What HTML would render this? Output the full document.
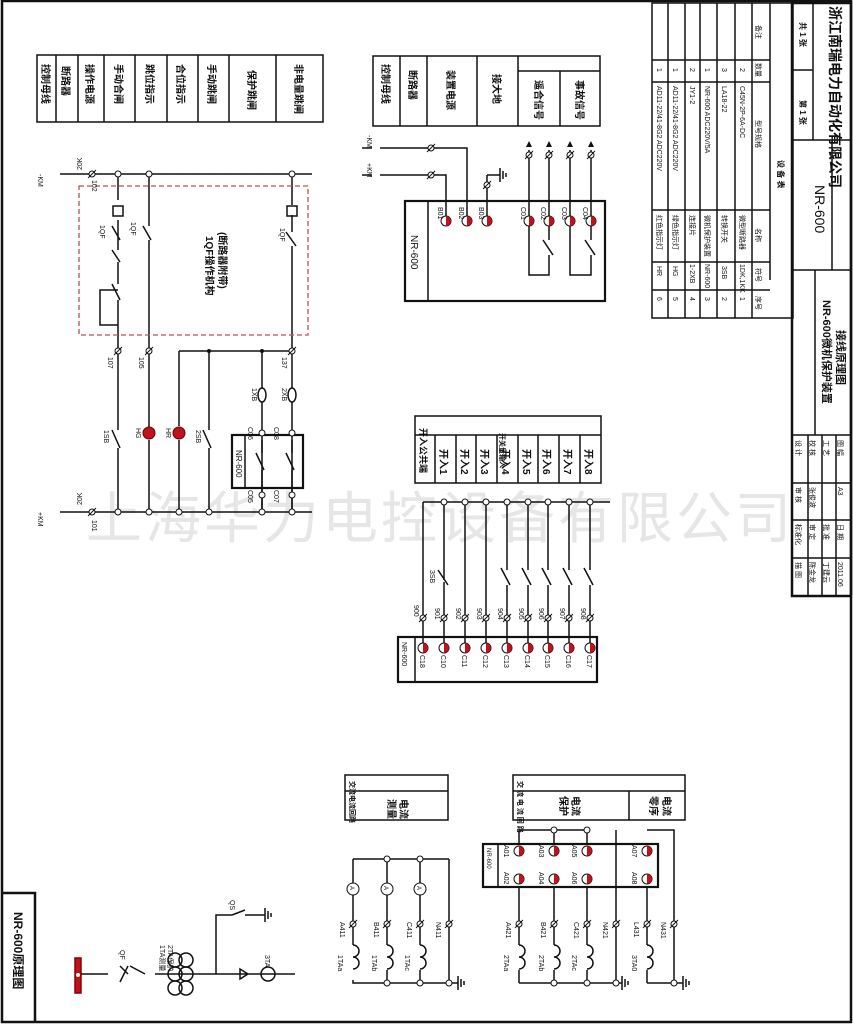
<!DOCTYPE html>
<html><head><meta charset="utf-8"><style>
html,body{margin:0;padding:0;background:#fff;}
svg{display:block;}
text{font-family:"Liberation Sans","Noto Sans CJK SC",sans-serif;fill:#111;}
</style></head><body>
<svg width="853" height="1024" viewBox="0 0 853 1024" xmlns="http://www.w3.org/2000/svg">
<defs>
<g id="rc"><circle r="5" fill="#fff" stroke="#111" stroke-width="1"/><path d="M0,-5 A5,5 0 0 1 0,5 Z" fill="#c0121c"/></g>
<g id="tm"><circle r="3" fill="#fff" stroke="#111" stroke-width="1"/><line x1="-4" y1="4" x2="4" y2="-4" stroke="#111"/></g>
<g id="oc"><circle r="3" fill="#fff" stroke="#111" stroke-width="1"/></g>
</defs>
<text x="86" y="538" font-size="56" style="fill:#e6e6e6" letter-spacing="3">上海华力电控设备有限公司</text>

<g stroke="#111" fill="none" stroke-width="1.5">
<rect x="2" y="1" width="849" height="1021" stroke-width="2.5"/>
<rect x="37" y="55" width="286" height="67"/>
<path d="M56 55V122M78 55V122M104 55V122M135 55V122M167 55V122M198 55V122M229 55V122M276 55V122"/>
<rect x="373" y="56" width="227" height="70"/>
<path d="M400 56V126M427 56V126M477 56V126M518 56V126M560 71V126M518 71H600"/>
<rect x="415" y="416" width="186" height="67"/>
<path d="M415 435H601M435 435V483M456 435V483M476 435V483M497 435V483M518 435V483M538 435V483M559 435V483M580 435V483"/>
<rect x="345" y="775" width="103" height="45"/><path d="M345 791H448"/>
<rect x="513" y="775" width="172" height="45"/><path d="M513 791H685M629 791V820"/>
<path d="M3 893H35V1022" stroke-width="2.5"/>
<rect x="652" y="3" width="141" height="315"/>
<path d="M668 3V318M685 3V318M700 3V318M717 3V318M735 3V318M752 3V318M770 3V280"/>
<path d="M652 60H770M652 82H770M652 210H770M652 262H770M652 290H770"/>
<rect x="792" y="3" width="59" height="593" stroke-width="2.5"/>
<path d="M813 3V140M792 70H813M792 140H851M792 270H851M832 140V270M815 270V435M792 435H851M808 435V596M822 435V596M836 435V596M792 483H851M792 520H851M792 558H851"/>

<path d="M72 174H312M72 512H312"/>
<path d="M118 174V200M118 220V250M118 262V284M118 300V335M118 335V430M118 448V512"/>
<path d="M149 174V226M149 240V430M149 440V512"/>
<path d="M179 351V426M179 440V512M209 351V430M209 448V512"/>
<path d="M262 351V388M262 402V512M292 174V205M292 215V232M292 246V388M292 402V512"/>
<path d="M179 351H292"/>
<path d="M112 226L120 240M143 226L151 240M286 232L296 246M112 250L120 262M112 284L120 300M112 430L120 448M203 430L211 448"/>
<path d="M118 290H100V325H118"/>
<rect x="113" y="206" width="10" height="10"/><rect x="287" y="206" width="10" height="10"/>
<ellipse cx="262" cy="395" rx="4" ry="7"/><ellipse cx="292" cy="395" rx="4" ry="7"/>
<rect x="232" y="435" width="71" height="53" stroke-width="2.2"/><path d="M245 435V488"/>
<path d="M262 440V453M262 470V488M256 453L264 470M292 440V453M292 470V488M286 453L294 470"/>
<path d="M262 488V512M292 488V512"/>
<path d="M60 174H72M60 512H72"/>
</g>
<rect x="79" y="186" width="229" height="149" fill="none" stroke="#c0504d" stroke-width="1.3" stroke-dasharray="5,3"/>
<g>
<use href="#oc" x="118" y="174"/><use href="#oc" x="149" y="174"/><use href="#oc" x="292" y="174"/>
<use href="#oc" x="118" y="512"/><use href="#oc" x="149" y="512"/><use href="#oc" x="179" y="512"/><use href="#oc" x="209" y="512"/><use href="#oc" x="262" y="512"/><use href="#oc" x="292" y="512"/>
<use href="#tm" x="92" y="174"/><use href="#tm" x="92" y="512"/>
<use href="#tm" x="118" y="351"/><use href="#tm" x="149" y="351"/><use href="#tm" x="292" y="351"/>
<circle cx="209" cy="351" r="2" fill="#111"/><circle cx="262" cy="351" r="2" fill="#111"/>
<circle cx="149" cy="433" r="6" fill="#c0121c" stroke="#600"/><circle cx="179" cy="433" r="6" fill="#c0121c" stroke="#600"/>
<use href="#oc" x="262" y="433"/><use href="#oc" x="292" y="433"/><use href="#oc" x="262" y="495"/><use href="#oc" x="292" y="495"/>
</g>

<g stroke="#111" fill="none" stroke-width="1.5">
<rect x="405" y="201" width="200" height="100" stroke-width="2.2"/><path d="M428 201V301"/>
<path d="M380 148H467V216M380 175H446V216M487 175V216M487 175H500M500 168V182M503 171V179M506 173V177"/>
<path d="M529 150V275H549V255M549 240V150M570 150V275H591V255M591 240V150M543 240L553 255M585 240L595 255"/>
<path d="M362 148H372M362 175H372"/>
</g>
<g>
<use href="#tm" x="431" y="148"/><use href="#tm" x="431" y="175"/>
<use href="#tm" x="529" y="155"/><use href="#tm" x="549" y="155"/><use href="#tm" x="570" y="155"/><use href="#tm" x="591" y="155"/><use href="#tm" x="487" y="185"/>
<use href="#rc" x="446" y="221"/><use href="#rc" x="467" y="221"/><use href="#rc" x="487" y="221"/>
<use href="#rc" x="529" y="221"/><use href="#rc" x="549" y="221"/><use href="#rc" x="570" y="221"/><use href="#rc" x="591" y="221"/>
</g>
<path d="M529 141l-3 6h6z M549 141l-3 6h6z M570 141l-3 6h6z M591 141l-3 6h6z" fill="#111"/>

<g stroke="#111" fill="none" stroke-width="1.5">
<path d="M423 502H610"/>
<path d="M423 502V643M444 502V580M444 582V643M465 502V643M486 502V643M507 502V570M507 585V643M528 502V570M528 585V643M548 502V570M548 585V643M569 502V570M569 585V643M590 502V570M590 585V643"/>
<path d="M501 568L510 585M522 568L531 585M542 568L551 585M563 568L572 585M584 568L593 585M438 570L448 585"/>
<rect x="398" y="637" width="199" height="45" stroke-width="2.2"/><path d="M415 637V682"/>
</g>
<g>
<use href="#oc" x="444" y="502"/><use href="#oc" x="486" y="502"/><use href="#oc" x="507" y="502"/><use href="#oc" x="528" y="502"/><use href="#oc" x="548" y="502"/><use href="#oc" x="569" y="502"/><use href="#oc" x="590" y="502"/><use href="#oc" x="465" y="502"/>
<use href="#tm" x="423" y="618"/><use href="#tm" x="444" y="618"/><use href="#tm" x="465" y="618"/><use href="#tm" x="486" y="618"/><use href="#tm" x="507" y="618"/><use href="#tm" x="528" y="618"/><use href="#tm" x="548" y="618"/><use href="#tm" x="569" y="618"/><use href="#tm" x="590" y="618"/>
<use href="#rc" x="423" y="648"/><use href="#rc" x="444" y="648"/><use href="#rc" x="465" y="648"/><use href="#rc" x="486" y="648"/><use href="#rc" x="507" y="648"/><use href="#rc" x="528" y="648"/><use href="#rc" x="548" y="648"/><use href="#rc" x="569" y="648"/><use href="#rc" x="590" y="648"/>
</g>

<g stroke="#111" fill="none" stroke-width="1.5">
<rect x="75" y="958" width="6" height="35" fill="#c0121c" stroke="#800"/>
<path d="M81 974H108M120 966L128 974M120 982L128 966M130 966L145 974M155 974H295M248 974l-8-5v10z"/>
<circle cx="175" cy="960" r="7"/><circle cx="175" cy="974" r="7"/><circle cx="175" cy="988" r="7"/>
<circle cx="186" cy="960" r="7"/><circle cx="186" cy="974" r="7"/><circle cx="186" cy="988" r="7"/>
<circle cx="268" cy="974" r="7"/>
<path d="M216 974V915H232M232 915L245 910M245 915H265M265 908V922M268 911V919M271 913V917"/>
<path d="M353 859H449M353 859V945M387 859V945M420 859V945M449 859V983M353 980V983H458"/>
<path d="M387 970V983M420 970V983M353 945a6 6 0 0 1 0 12a6 6 0 0 1 0 12M387 945a6 6 0 0 1 0 12a6 6 0 0 1 0 12M420 945a6 6 0 0 1 0 12a6 6 0 0 1 0 12"/>
<path d="M458 976V990M461 979V987M464 981V985"/>
<rect x="483" y="844" width="175" height="43" stroke-width="2.2"/><path d="M498 844V887"/>
<path d="M519 830H587M519 830V844M554 830V844M587 830V844M616 830V983M519 887V945M554 887V945M587 887V945M647 887V945M647 830H674V983"/>
<path d="M519 970V983M554 970V983M587 970V983M647 970V983M519 983H622M647 983H683"/>
<path d="M519 945a6 6 0 0 1 0 12a6 6 0 0 1 0 12M554 945a6 6 0 0 1 0 12a6 6 0 0 1 0 12M587 945a6 6 0 0 1 0 12a6 6 0 0 1 0 12M647 945a6 6 0 0 1 0 12a6 6 0 0 1 0 12"/>
<path d="M622 976V990M625 979V987M628 981V985M683 976V990M686 979V987M689 981V985"/>
</g>
<g>
<circle cx="78" cy="975" r="2" fill="#fff"/>
<use href="#oc" x="387" y="859"/><use href="#oc" x="420" y="859"/>
<use href="#oc" x="387" y="983"/><use href="#oc" x="420" y="983"/><use href="#oc" x="449" y="983"/>
<use href="#oc" x="554" y="830"/><use href="#oc" x="587" y="830"/>
<use href="#oc" x="554" y="983"/><use href="#oc" x="587" y="983"/><use href="#oc" x="616" y="983"/><use href="#oc" x="674" y="983"/>
<use href="#tm" x="353" y="924"/><use href="#tm" x="387" y="924"/><use href="#tm" x="420" y="924"/><use href="#tm" x="449" y="924"/>
<use href="#tm" x="519" y="924"/><use href="#tm" x="554" y="924"/><use href="#tm" x="587" y="924"/><use href="#tm" x="616" y="924"/><use href="#tm" x="647" y="924"/><use href="#tm" x="674" y="924"/>
<circle cx="353" cy="889" r="6" fill="#fff" stroke="#111"/><circle cx="387" cy="889" r="6" fill="#fff" stroke="#111"/><circle cx="420" cy="889" r="6" fill="#fff" stroke="#111"/>
<use href="#rc" x="519" y="851"/><use href="#rc" x="554" y="851"/><use href="#rc" x="587" y="851"/><use href="#rc" x="647" y="851"/>
<use href="#rc" x="519" y="879"/><use href="#rc" x="554" y="879"/><use href="#rc" x="587" y="879"/><use href="#rc" x="647" y="879"/>
</g>

<g font-size="10" font-weight="bold">
<text transform="translate(42,64) rotate(90)">控制母线</text>
<text transform="translate(62,66) rotate(90)">断路器</text>
<text transform="translate(86,64) rotate(90)">操作电源</text>
<text transform="translate(115,64) rotate(90)">手动合闸</text>
<text transform="translate(146,64) rotate(90)">跳位指示</text>
<text transform="translate(177,64) rotate(90)">合位指示</text>
<text transform="translate(208,64) rotate(90)">手动跳闸</text>
<text transform="translate(248,70) rotate(90)">保护跳闸</text>
<text transform="translate(295,64) rotate(90)">非电量跳闸</text>
<text transform="translate(382,64) rotate(90)">控制母线</text>
<text transform="translate(409,70) rotate(90)">断路器</text>
<text transform="translate(447,70) rotate(90)">装置电源</text>
<text transform="translate(493,74) rotate(90)">接大地</text>
<text transform="translate(535,80) rotate(90)">遥合信号</text>
<text transform="translate(576,80) rotate(90)">事故信号</text>
<text transform="translate(420,428) rotate(90)" font-size="9">开入公共端</text>
<text transform="translate(440,449) rotate(90)">开入1</text><text transform="translate(461,449) rotate(90)">开入2</text>
<text transform="translate(481,449) rotate(90)">开入3</text><text transform="translate(502,449) rotate(90)">开入4</text>
<text transform="translate(523,449) rotate(90)">开入5</text><text transform="translate(543,449) rotate(90)">开入6</text>
<text transform="translate(564,449) rotate(90)">开入7</text><text transform="translate(585,449) rotate(90)">开入8</text>
<text transform="translate(500,433) rotate(90)" font-size="7">开关量输入</text>
<text transform="translate(350,781) rotate(90)" font-size="7">交流电流回路</text>
<text transform="translate(388,799) rotate(90)">测量</text><text transform="translate(400,799) rotate(90)">电流</text>
<text transform="translate(518,781) rotate(90)" font-size="7">交 流 电 流 回 路</text>
<text transform="translate(560,796) rotate(90)">保护</text><text transform="translate(572,796) rotate(90)">电流</text>
<text transform="translate(650,796) rotate(90)">零序</text><text transform="translate(663,796) rotate(90)">电流</text>
<text transform="translate(14,912) rotate(90)" font-size="12">NR-600原理图</text>
<text transform="translate(206,236) rotate(90)" font-size="10">1QF操作机构</text>
<text transform="translate(219,232) rotate(90)" font-size="10">(断路器附带)</text>
<text transform="translate(815,185) rotate(90)" font-size="14" font-weight="normal">NR-600</text>
<text transform="translate(830,6) rotate(90)" font-size="14">浙江南瑞电力自动化有限公司</text>
<text transform="translate(823,300) rotate(90)" font-size="11">NR-600微机保护装置</text>
<text transform="translate(837,330) rotate(90)" font-size="11">接线原理图</text>
<text transform="translate(800,100) rotate(90)" font-size="8">第 1 张</text>
<text transform="translate(800,22) rotate(90)" font-size="8">共 1 张</text>
<text transform="translate(778,160) rotate(90)" font-size="8">设 备 表</text>
</g>
<g font-size="7">
<text transform="translate(38,174) rotate(90)">-KM</text><text transform="translate(38,512) rotate(90)">+KM</text>
<text transform="translate(82,505) rotate(-90)">20K</text><text transform="translate(82,170) rotate(-90)">20K</text>
<text transform="translate(92,520) rotate(90)">101</text><text transform="translate(92,180) rotate(90)">102</text>
<text transform="translate(108,357) rotate(90)">107</text><text transform="translate(139,357) rotate(90)">105</text><text transform="translate(282,357) rotate(90)">137</text>
<text transform="translate(104,430) rotate(90)">1SB</text><text transform="translate(196,430) rotate(90)">2SB</text>
<text transform="translate(136,428) rotate(90)">HG</text><text transform="translate(166,428) rotate(90)">HR</text>
<text transform="translate(252,388) rotate(90)">1XB</text><text transform="translate(282,388) rotate(90)">2XB</text>
<text transform="translate(236,450) rotate(90)" font-size="8">NR-600</text>
<text transform="translate(248,427) rotate(90)">C06</text><text transform="translate(274,427) rotate(90)">C08</text>
<text transform="translate(248,490) rotate(90)">C05</text><text transform="translate(274,490) rotate(90)">C07</text>
<text transform="translate(100,225) rotate(90)">1QF</text><text transform="translate(131,222) rotate(90)">1QF</text><text transform="translate(280,228) rotate(90)">1QF</text>
<text transform="translate(411,235) rotate(90)" font-size="10">NR-600</text>
<text transform="translate(367,135) rotate(90)">-KM</text><text transform="translate(367,163) rotate(90)">+KM</text>
<text transform="translate(438,207) rotate(90)">B01</text><text transform="translate(459,207) rotate(90)">B02</text><text transform="translate(479,207) rotate(90)">B03</text>
<text transform="translate(521,207) rotate(90)">C01</text><text transform="translate(541,207) rotate(90)">C02</text><text transform="translate(562,207) rotate(90)">C03</text><text transform="translate(583,207) rotate(90)">C04</text>
<text transform="translate(402,642) rotate(90)">NR-600</text>
<text transform="translate(420,655) rotate(90)">C18</text><text transform="translate(441,655) rotate(90)">C10</text><text transform="translate(462,655) rotate(90)">C11</text><text transform="translate(483,655) rotate(90)">C12</text><text transform="translate(504,655) rotate(90)">C13</text><text transform="translate(525,655) rotate(90)">C14</text><text transform="translate(545,655) rotate(90)">C15</text><text transform="translate(566,655) rotate(90)">C16</text><text transform="translate(587,655) rotate(90)">C17</text>
<text transform="translate(414,605) rotate(90)">900</text><text transform="translate(435,608) rotate(90)">901</text><text transform="translate(456,608) rotate(90)">902</text><text transform="translate(477,608) rotate(90)">903</text><text transform="translate(498,608) rotate(90)">904</text><text transform="translate(519,608) rotate(90)">905</text><text transform="translate(539,608) rotate(90)">906</text><text transform="translate(560,608) rotate(90)">907</text><text transform="translate(581,608) rotate(90)">908</text>
<text transform="translate(430,570) rotate(90)">3SB</text>
<text transform="translate(340,922) rotate(90)">A411</text><text transform="translate(374,922) rotate(90)">B411</text><text transform="translate(407,922) rotate(90)">C411</text><text transform="translate(436,922) rotate(90)">N411</text>
<text transform="translate(506,922) rotate(90)">A421</text><text transform="translate(541,922) rotate(90)">B421</text><text transform="translate(574,922) rotate(90)">C421</text><text transform="translate(603,922) rotate(90)">N421</text><text transform="translate(634,922) rotate(90)">L431</text><text transform="translate(661,922) rotate(90)">N431</text>
<text transform="translate(338,955) rotate(90)">1TAa</text><text transform="translate(372,955) rotate(90)">1TAb</text><text transform="translate(405,955) rotate(90)">1TAc</text>
<text transform="translate(504,955) rotate(90)">2TAa</text><text transform="translate(539,955) rotate(90)">2TAb</text><text transform="translate(572,955) rotate(90)">2TAc</text><text transform="translate(632,955) rotate(90)">3TA0</text>
<text transform="translate(487,848) rotate(90)" font-size="6">NR-600</text>
<text transform="translate(504,845) rotate(90)">A01</text><text transform="translate(539,845) rotate(90)">A03</text><text transform="translate(572,845) rotate(90)">A05</text><text transform="translate(632,845) rotate(90)">A07</text>
<text transform="translate(504,872) rotate(90)">A02</text><text transform="translate(539,872) rotate(90)">A04</text><text transform="translate(572,872) rotate(90)">A06</text><text transform="translate(632,872) rotate(90)">A08</text>
<text transform="translate(230,900) rotate(90)">QS</text><text transform="translate(120,950) rotate(90)">QF</text>
<text transform="translate(160,945) rotate(90)">1TA测量</text><text transform="translate(168,945) rotate(90)">2TA保护</text><text transform="translate(265,955) rotate(90)">3TA</text>
<text transform="translate(350,886) rotate(90)" font-size="6">A</text><text transform="translate(384,886) rotate(90)" font-size="6">A</text><text transform="translate(417,886) rotate(90)" font-size="6">A</text>
<text transform="translate(657,297) rotate(90)">6</text><text transform="translate(673,297) rotate(90)">5</text><text transform="translate(690,297) rotate(90)">4</text><text transform="translate(705,297) rotate(90)">3</text><text transform="translate(722,297) rotate(90)">2</text><text transform="translate(740,297) rotate(90)">1</text><text transform="translate(756,296) rotate(90)">序号</text>
<text transform="translate(657,266) rotate(90)">HR</text><text transform="translate(673,266) rotate(90)">HG</text><text transform="translate(690,264) rotate(90)">1-2XB</text><text transform="translate(705,264) rotate(90)">NR-600</text><text transform="translate(722,266) rotate(90)">3SB</text><text transform="translate(740,264) rotate(90)">1DK,1KK</text><text transform="translate(756,268) rotate(90)">符号</text>
<text transform="translate(657,215) rotate(90)">红色指示灯</text><text transform="translate(673,215) rotate(90)">绿色指示灯</text><text transform="translate(690,215) rotate(90)">连接片</text><text transform="translate(705,215) rotate(90)">微机保护装置</text><text transform="translate(722,215) rotate(90)">转换开关</text><text transform="translate(740,215) rotate(90)">微型断路器</text><text transform="translate(756,228) rotate(90)">名称</text>
<text transform="translate(657,86) rotate(90)">AD11-22/41-8G2 ADC220V</text><text transform="translate(673,86) rotate(90)">AD11-22/41-8G2 ADC220V</text><text transform="translate(690,86) rotate(90)">JY1-2</text><text transform="translate(705,86) rotate(90)">NR-600 ADC220V/5A</text><text transform="translate(722,86) rotate(90)">LA18-22</text><text transform="translate(740,86) rotate(90)">C45N-2P-6A-DC</text><text transform="translate(756,120) rotate(90)">型号规格</text>
<text transform="translate(657,68) rotate(90)">1</text><text transform="translate(673,68) rotate(90)">1</text><text transform="translate(690,68) rotate(90)">2</text><text transform="translate(705,68) rotate(90)">1</text><text transform="translate(722,68) rotate(90)">3</text><text transform="translate(740,68) rotate(90)">2</text><text transform="translate(756,63) rotate(90)">数量</text><text transform="translate(756,25) rotate(90)">备注</text>
<text transform="translate(796,440) rotate(90)">设 计</text><text transform="translate(796,487) rotate(90)">审 核</text><text transform="translate(796,524) rotate(90)">标准化</text><text transform="translate(796,562) rotate(90)">描 图</text>
<text transform="translate(810,440) rotate(90)">校 核</text><text transform="translate(810,487) rotate(90)">张俊波</text><text transform="translate(810,524) rotate(90)">审 定</text><text transform="translate(810,562) rotate(90)">陈金龙</text>
<text transform="translate(824,440) rotate(90)">工 艺</text><text transform="translate(824,524) rotate(90)">批 准</text><text transform="translate(824,562) rotate(90)">丁建云</text>
<text transform="translate(838,440) rotate(90)">图 幅</text><text transform="translate(838,487) rotate(90)">A3</text><text transform="translate(838,524) rotate(90)">日 期</text><text transform="translate(838,562) rotate(90)">2011.06</text>
</g>
</svg>
</body></html>
